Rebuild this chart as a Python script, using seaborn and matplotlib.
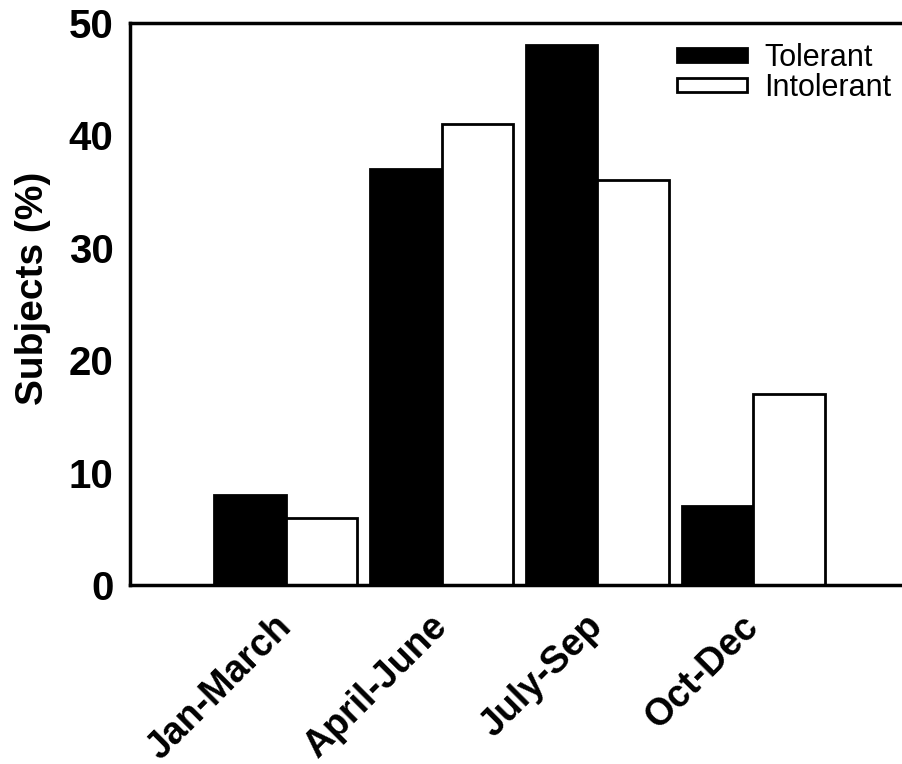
import matplotlib
matplotlib.use("Agg")
import matplotlib.pyplot as plt
import seaborn as sns
import pandas as pd
from matplotlib.patches import Patch

quarters = ["Jan-March", "April-June", "July-Sep", "Oct-Dec"]
tolerant = [8, 37, 48, 7]
intolerant = [6, 41, 36, 17]
groups = ["Tolerant", "Intolerant"]
colors = {"Tolerant": "black", "Intolerant": "white"}
yticks = [0, 10, 20, 30, 40, 50]

df = pd.DataFrame({
    "Quarter": quarters * 2,
    "Group": ["Tolerant"] * len(quarters) + ["Intolerant"] * len(quarters),
    "Value": tolerant + intolerant,
})

sns.set_style("white")
plt.rcParams["font.family"] = ["Liberation Sans", "DejaVu Sans"]

fig = plt.figure(figsize=(9.03, 7.64), dpi=100)
ax = fig.add_axes([130 / 903, 1 - 585 / 764, (909 - 130) / 903, (585 - 23) / 764])

sns.barplot(data=df, x="Quarter", y="Value", hue="Group", order=quarters,
            hue_order=groups, palette=colors, edgecolor="black", linewidth=2,
            width=0.92, legend=False, ax=ax, errorbar=None, saturation=1)

ax.set_xlim(-1, 4)
ax.set_ylim(0, 50)
ax.set_yticks(yticks)
ax.set_yticklabels([str(v) for v in yticks], fontsize=29, fontweight="bold", color="black")
ax.set_xticks(range(len(quarters)))
ax.set_xticklabels(quarters, fontsize=27, fontweight="bold", rotation=45,
                   ha="right", va="center", rotation_mode="anchor", color="black")
ax.set_xlabel("")
ax.set_ylabel("Subjects (%)", fontsize=28, fontweight="bold", color="black")
ax.yaxis.set_label_coords(-0.1014, 0.528)

for s in ["left", "bottom", "top"]:
    ax.spines[s].set_visible(True)
    ax.spines[s].set_linewidth(2.5)
    ax.spines[s].set_color("black")
ax.spines["right"].set_visible(False)

ax.tick_params(axis="y", direction="in", length=8, width=2.5, pad=12, colors="black")
ax.tick_params(axis="x", direction="out", length=8, width=2.5, pad=18, colors="black")

handles = [Patch(facecolor=colors[g], edgecolor="black", linewidth=2) for g in groups]
leg = ax.legend(handles, groups, loc="upper left", bbox_to_anchor=(677 / 903, 1 - 43 / 764),
                bbox_transform=fig.transFigure, frameon=False, fontsize=22,
                handlelength=2.3, handleheight=0.3, handletextpad=0.55, labelspacing=0.0,
                borderpad=0, borderaxespad=0)
for t in leg.get_texts():
    t.set_color("black")

fig.savefig("out.png", dpi=100)
